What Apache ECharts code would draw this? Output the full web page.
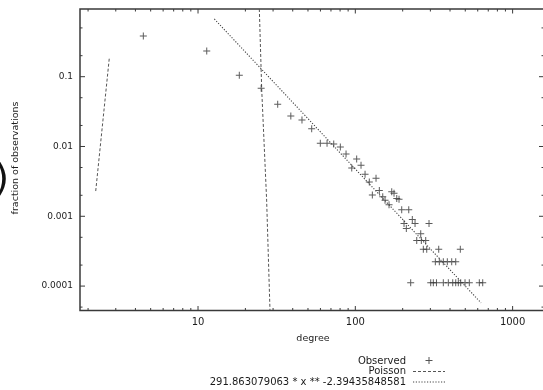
<!DOCTYPE html>
<html>
<head>
<meta charset="utf-8">
<script src="https://cdn.jsdelivr.net/npm/echarts@6/dist/echarts.min.js"></script>
<style>
  html, body { margin: 0; padding: 0; background: #fff; }
  #chart { width: 543px; height: 390px; }
</style>
</head>
<body>
<div id="chart"></div>
<script>
// Degree distribution: observed fractions, Poisson reference and power-law fit.
const observedDegree = [
  4.49, 11.36, 18.3, 25.2, 32.1, 38.9, 45.8, 52.8, 59.9, 66.1, 72.9, 80.3, 87.3,
  102, 108.7, 94.9, 115.3, 135.4, 122.7, 142.1, 128.3, 170.4, 176.2, 149.4, 154.5,
  183.4, 189.6, 163.8, 197.2, 218.6, 204, 230.3, 239.7, 294.1, 211, 260.5,
  245.7, 262.8, 280.2,
  270.6, 284.4, 339, 465,
  322.6, 342, 362.6, 384.5, 410, 434.8,
  224.9, 301.5, 313.2, 328, 362.6, 390.2, 416.1, 434.8, 451.6, 467.7, 498.2, 530.5, 614.2, 645.5
];
const observedFraction = [
  0.383, 0.233, 0.105, 0.0682, 0.0402, 0.0274, 0.024, 0.018, 0.0111, 0.0111, 0.0109, 0.0098, 0.0078,
  0.0066, 0.0054, 0.0049, 0.0040, 0.0035, 0.0031, 0.00235, 0.00202, 0.00224, 0.00213, 0.00191, 0.00170,
  0.00180, 0.00176, 0.00146, 0.00124, 0.00124, 0.00079, 0.00090, 0.00079, 0.00079, 0.00067, 0.00056,
  0.00045, 0.00045, 0.00045,
  0.000336, 0.000336, 0.000336, 0.000336,
  0.000224, 0.000224, 0.000224, 0.000224, 0.000224, 0.000224,
  0.000112, 0.000112, 0.000112, 0.000112, 0.000112, 0.000112, 0.000112, 0.000112, 0.000112, 0.000112, 0.000112, 0.000112, 0.000112, 0.000112
];

// Poisson curve (two visible pieces, gap between them)
const poissonDegree   = [2.237, 2.73, null, 24.53, 25.41, 27.3, 28.67];
const poissonFraction = [0.0023, 0.187, null, 0.933, 0.0645, 0.00171, 0.0000453];

// Fitted power law 291.863079063 * x ** -2.39435848581, end points of the drawn segment
const fitDegree   = [12.7, 630];
const fitFraction = [0.671, 0.0000575];

// Axis ticks and labels
const xMajorTicks = [10, 100, 1000];
const xTickLabels = ['10', '100', '1000'];
const xMinorTicks = [2, 3, 4, 5, 6, 7, 8, 9, 20, 30, 40, 50, 60, 70, 80, 90, 200, 300, 400, 500, 600, 700, 800, 900];
const yMajorTicks = [0.1, 0.01, 0.001, 0.0001];
const yTickLabels = ['0.1', '0.01', '0.001', '0.0001'];
const yMinorTicks = [0.5, 0.2, 0.05, 0.02, 0.005, 0.002, 0.0005, 0.0002, 0.00005];

const legendLabels = ['Observed', 'Poisson', '291.863079063 * x ** -2.39435848581'];
const xTitle = 'degree';
const yTitle = 'fraction of observations';

const X_MIN = 1.777, X_MAX = 1583;
const Y_MIN = 0.0000447, Y_MAX = 0.933;

const INK = '#3a3a3a';
const TEXT = '#1c1c1c';
const FONT = '"DejaVu Sans", "Liberation Sans", sans-serif';

const zip = (xs, ys) => xs.map((x, i) => (x === null ? '-' : [x, ys[i]]));

function tickSeries(values, axis, len, labels, fontSize) {
  return {
    type: 'custom',
    silent: true,
    clip: false,
    z: 6,
    data: values.map(v => (axis === 'x' ? [v, Y_MIN] : [X_MIN, v])),
    renderItem(params, api) {
      const children = [];
      const stroke = { stroke: INK, lineWidth: 1 };
      if (axis === 'x') {
        const v = api.value(0);
        const b = api.coord([v, Y_MIN]);
        const t = api.coord([v, Y_MAX]);
        children.push({ type: 'line', shape: { x1: b[0], y1: b[1], x2: b[0], y2: b[1] - len }, style: stroke });
        children.push({ type: 'line', shape: { x1: t[0], y1: t[1], x2: t[0], y2: t[1] + len }, style: stroke });
        if (labels) {
          children.push({ type: 'text', x: b[0], y: b[1] + 7,
            style: { text: labels[params.dataIndex], fill: TEXT, font: fontSize + 'px ' + FONT, align: 'center', verticalAlign: 'top' } });
        }
      } else {
        const v = api.value(1);
        const l = api.coord([X_MIN, v]);
        const r = api.coord([X_MAX, v]);
        children.push({ type: 'line', shape: { x1: l[0], y1: l[1], x2: l[0] + len, y2: l[1] }, style: stroke });
        children.push({ type: 'line', shape: { x1: r[0], y1: r[1], x2: r[0] - len, y2: r[1] }, style: stroke });
        if (labels) {
          children.push({ type: 'text', x: l[0] - 7, y: l[1],
            style: { text: labels[params.dataIndex], fill: TEXT, font: fontSize + 'px ' + FONT, align: 'right', verticalAlign: 'middle' } });
        }
      }
      return { type: 'group', children };
    }
  };
}

const plusPath = 'path://M0,3h7v1h-7z M3,0h1v7h-1z';

const chart = echarts.init(document.getElementById('chart'), null, { renderer: 'canvas' });
chart.setOption({
  animation: false,
  backgroundColor: '#fff',
  grid: {
    left: 80, top: 9, width: 464, height: 301.5,
    show: true, borderColor: INK, borderWidth: 1.5, backgroundColor: 'transparent',
    outerBoundsMode: 'none'
  },
  xAxis: {
    type: 'log', min: X_MIN, max: X_MAX,
    axisLine: { show: false }, axisTick: { show: false }, axisLabel: { show: false },
    splitLine: { show: false }, minorTick: { show: false }
  },
  yAxis: {
    type: 'log', min: Y_MIN, max: Y_MAX,
    axisLine: { show: false }, axisTick: { show: false }, axisLabel: { show: false },
    splitLine: { show: false }, minorTick: { show: false }
  },
  series: [
    tickSeries(xMajorTicks, 'x', 4.5, xTickLabels, 10),
    tickSeries(xMinorTicks, 'x', 2.5, null, 10),
    tickSeries(yMajorTicks, 'y', 5, yTickLabels, 9),
    tickSeries(yMinorTicks, 'y', 2.5, null, 9),
    {
      name: legendLabels[0],
      type: 'scatter',
      data: zip(observedDegree, observedFraction),
      symbol: plusPath,
      symbolSize: 7,
      itemStyle: { color: '#333' },
      z: 4
    },
    {
      name: legendLabels[1],
      type: 'line',
      data: zip(poissonDegree, poissonFraction),
      showSymbol: false,
      symbol: 'none',
      connectNulls: false,
      clip: true,
      lineStyle: { color: '#555', width: 1, type: [3, 2] },
      z: 3
    },
    {
      name: legendLabels[2],
      type: 'line',
      data: zip(fitDegree, fitFraction),
      showSymbol: false,
      symbol: 'none',
      clip: true,
      lineStyle: { color: '#444', width: 1.1, type: [1.2, 1.6] },
      z: 3
    }
  ],
  graphic: [
    // axis titles
    { type: 'text', x: 313, y: 339,
      style: { text: xTitle, fill: TEXT, font: '9.5px ' + FONT, align: 'center', verticalAlign: 'middle' } },
    { type: 'text', x: 16, y: 158, rotation: Math.PI / 2,
      style: { text: yTitle, fill: TEXT, font: '9.5px ' + FONT, align: 'center', verticalAlign: 'middle' } },
    { type: 'text', x: 9, y: 180,
      style: { text: ')', fill: '#111', font: '38px ' + FONT, align: 'right', verticalAlign: 'middle' } },
    // key
    { type: 'text', x: 406, y: 361,
      style: { text: legendLabels[0], fill: TEXT, font: '10px ' + FONT, align: 'right', verticalAlign: 'middle' } },
    { type: 'text', x: 406, y: 371.5,
      style: { text: legendLabels[1], fill: TEXT, font: '10px ' + FONT, align: 'right', verticalAlign: 'middle' } },
    { type: 'text', x: 406, y: 382,
      style: { text: legendLabels[2], fill: TEXT, font: '10px ' + FONT, align: 'right', verticalAlign: 'middle' } },
    { type: 'group', x: 429, y: 360.5, children: [
      { type: 'line', shape: { x1: -3.5, y1: 0, x2: 3.5, y2: 0 }, style: { stroke: '#555', lineWidth: 1 } },
      { type: 'line', shape: { x1: 0, y1: -3.5, x2: 0, y2: 3.5 }, style: { stroke: '#555', lineWidth: 1 } }
    ] },
    { type: 'line', shape: { x1: 413, y1: 371.5, x2: 445, y2: 371.5 },
      style: { stroke: '#555', lineWidth: 1, lineDash: [3, 2] } },
    { type: 'line', shape: { x1: 413, y1: 382, x2: 445, y2: 382 },
      style: { stroke: '#444', lineWidth: 1.1, lineDash: [1.2, 1.6] } }
  ]
});
</script>
</body>
</html>
